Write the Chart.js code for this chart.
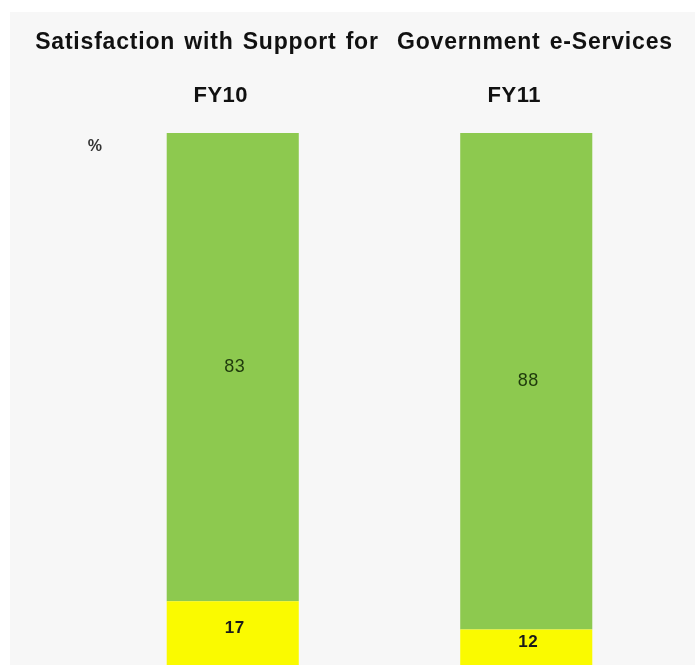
<!DOCTYPE html>
<html>
<head>
<meta charset="utf-8">
<script src="https://cdn.jsdelivr.net/npm/chart.js@4/dist/chart.umd.min.js"></script>
<style>
html,body{margin:0;padding:0;background:#fff;overflow:hidden;}
canvas{display:block;}
</style>
</head>
<body>
<canvas id="c" width="695" height="665"></canvas>
<script>
const categories = ["FY10", "FY11"];
const satisfied = [83, 88];
const notSatisfied = [17, 12];
const titleText = "Satisfaction with Support for  Government e-Services";
const unitLabel = "%";

const FONT = "'Liberation Sans', Arial, sans-serif";

const backgroundPlugin = {
  id: 'panelBg',
  beforeDraw(chart) {
    const ctx = chart.ctx;
    ctx.save();
    ctx.fillStyle = '#ffffff';
    ctx.fillRect(0, 0, chart.width, chart.height);
    ctx.fillStyle = '#f7f7f7';
    ctx.fillRect(10, 12, chart.width - 10, chart.height - 12);
    ctx.restore();
    ctx.letterSpacing = '0.5px';
  }
};

const labelsPlugin = {
  id: 'valueLabels',
  afterDatasetsDraw(chart) {
    const ctx = chart.ctx;
    const area = chart.chartArea;
    ctx.save();
    ctx.textAlign = 'center';
    ctx.textBaseline = 'middle';
    ctx.letterSpacing = '0.5px';
    chart.data.datasets.forEach((ds, di) => {
      const meta = chart.getDatasetMeta(di);
      meta.data.forEach((bar, i) => {
        const top = Math.max(Math.min(bar.y, bar.base), area.top);
        const bottom = Math.min(Math.max(bar.y, bar.base), area.bottom - (di === 0 ? 10 : 0));
        const y = (top + bottom) / 2;
        ctx.font = (di === 0 ? 'bold 17px ' : '18px ') + FONT;
        ctx.fillStyle = di === 0 ? '#1a1a1a' : '#1f3a0c';
        ctx.fillText(String(ds.data[i]), bar.x + 2, y);
      });
    });
    // unit label
    ctx.font = 'bold 16px ' + FONT;
    ctx.fillStyle = '#333333';
    ctx.fillText(unitLabel, 95, area.top + 14);
    // title
    ctx.font = 'bold 23px ' + FONT;
    ctx.letterSpacing = '0.8px';
    ctx.wordSpacing = '2px';
    ctx.fillStyle = '#111111';
    ctx.fillText(titleText, 354, 43);
    ctx.restore();
  }
};

new Chart(document.getElementById('c'), {
  type: 'bar',
  data: {
    labels: categories,
    datasets: [
      { label: 'Not satisfied', data: notSatisfied, backgroundColor: '#fafa00', borderWidth: 0, categoryPercentage: 1, barPercentage: 0.45 },
      { label: 'Satisfied', data: satisfied, backgroundColor: '#8dc94f', borderWidth: 0, categoryPercentage: 1, barPercentage: 0.45 }
    ]
  },
  options: {
    responsive: false,
    animation: false,
    devicePixelRatio: 1,
    layout: { padding: { top: 12, left: 86, right: 22, bottom: 0 } },
    plugins: {
      legend: { display: false },
      tooltip: { enabled: false },
      title: { display: false }
    },
    scales: {
      x: {
        stacked: true,
        position: 'top',
        grid: { display: false, drawTicks: false },
        border: { display: false },
        ticks: { color: '#111111', font: { family: FONT, size: 22, weight: 'bold' }, padding: 24, labelOffset: -12 },
        afterFit(scale) { scale.height = 121; }
      },
      y: {
        stacked: true,
        display: false,
        min: 5.7,
        max: 100
      }
    }
  },
  plugins: [backgroundPlugin, labelsPlugin]
});
</script>
</body>
</html>
